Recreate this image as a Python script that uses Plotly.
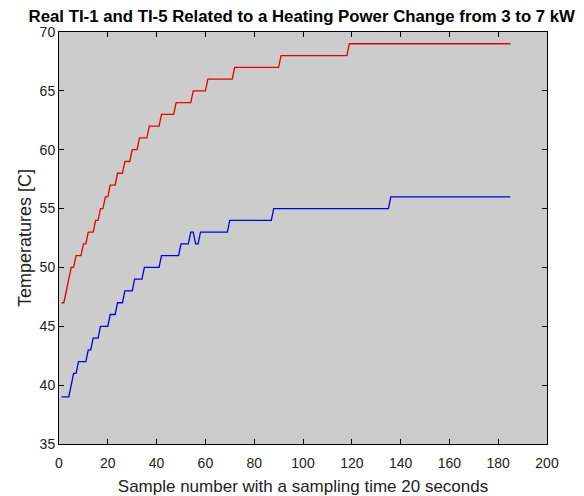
import plotly.graph_objects as go

# Vertex samples (sample number, temperature in C)
ti1_x = [1, 2, 5, 6, 7, 9, 10, 11, 12, 14, 15, 16, 17, 18, 19, 20, 21, 23, 24, 26, 27, 29,
         30, 32, 33, 36, 37, 41, 42, 47, 48, 54, 55, 60, 61, 71, 72, 90, 91, 118, 119, 185]
ti1_y = [47, 47, 50, 50, 51, 51, 52, 52, 53, 53, 54, 54, 55, 55, 56, 56, 57, 57, 58, 58, 59, 59,
         60, 60, 61, 61, 62, 62, 63, 63, 64, 64, 65, 65, 66, 66, 67, 67, 68, 68, 69, 69]

ti5_x = [1, 4, 6, 7, 8, 11, 12, 13, 14, 16, 17, 20, 21, 23, 24, 26, 27, 30, 31, 34, 35, 41,
         42, 49, 50, 53, 54, 55, 56, 57, 58, 69, 70, 87, 88, 135, 136, 185]
ti5_y = [39, 39, 41, 41, 42, 42, 43, 43, 44, 44, 45, 45, 46, 46, 47, 47, 48, 48, 49, 49, 50, 50,
         51, 51, 52, 52, 53, 53, 52, 52, 53, 53, 54, 54, 55, 55, 56, 56]

x_ticks = [0, 20, 40, 60, 80, 100, 120, 140, 160, 180, 200]
y_ticks = [35, 40, 45, 50, 55, 60, 65, 70]

fig = go.Figure()
fig.add_trace(go.Scatter(x=ti1_x, y=ti1_y, mode="lines", name="TI-1",
                         line=dict(color="#e60000", width=1.3)))
fig.add_trace(go.Scatter(x=ti5_x, y=ti5_y, mode="lines", name="TI-5",
                         line=dict(color="#0000e6", width=1.3)))

font = "Arial, Liberation Sans, sans-serif"
axis_common = dict(showline=True, linecolor="black", linewidth=1, mirror="ticks",
                   ticks="inside", ticklen=5, tickcolor="black", showgrid=False,
                   zeroline=False, automargin=False,
                   tickfont=dict(family=font, size=14, color="#222222"))

# The page body has an 8px margin, so the figure is offset by (8, 8) in the window.
fig.update_layout(
    width=576, height=488,
    margin=dict(l=51, r=37, t=24, b=52),
    paper_bgcolor="white", plot_bgcolor="#cccccc",
    showlegend=False,
    title=dict(text="<b>Real TI-1 and TI-5 Related to a Heating Power Change from 3 to 7 kW</b>",
               x=0.51, xanchor="center", y=0.984, yanchor="middle",
               font=dict(family=font, size=16.8, color="black")),
    xaxis=dict(range=[0, 200], tickvals=x_ticks, ticklabelstandoff=6,
               title=dict(text="Sample number with a sampling time 20 seconds", standoff=10,
                          font=dict(family=font, size=17, color="#222222")),
               **axis_common),
    yaxis=dict(range=[35, 70], tickvals=y_ticks,
               title=dict(text="Temperatures [C]", standoff=3,
                          font=dict(family=font, size=18, color="#222222")),
               **axis_common),
)

fig.write_html("out.html")
